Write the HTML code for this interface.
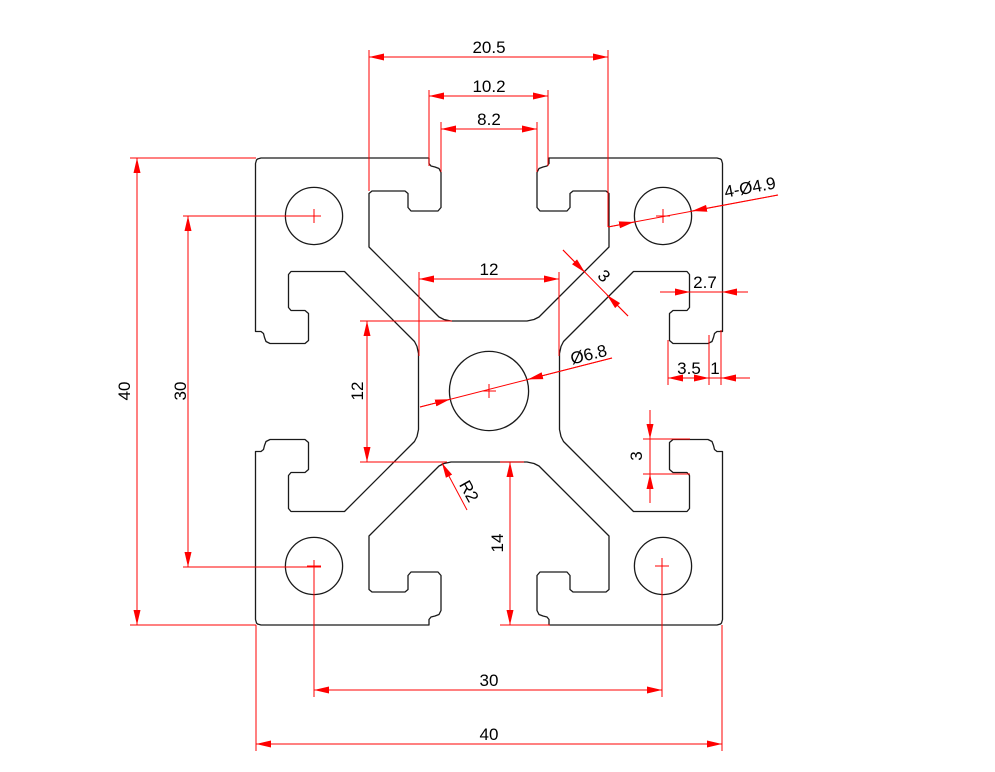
<!DOCTYPE html>
<html><head><meta charset="utf-8"><style>
html,body{margin:0;padding:0;background:#fff;}
svg{display:block;}
text{font-family:"Liberation Sans",sans-serif;font-size:17px;fill:#000;}
</style></head><body>
<svg id="s" width="995" height="772" viewBox="0 0 995 772" xmlns="http://www.w3.org/2000/svg">
<defs>
<marker id="a" markerWidth="16" markerHeight="10" refX="15" refY="5" orient="auto-start-reverse" markerUnits="userSpaceOnUse">
<path d="M0,1.5 L15,5 L0,8.5 z" fill="#f00"/>
</marker>
</defs>
<rect width="995" height="772" fill="#fff"/>
<path id="outline" d="" fill="none" stroke="#1a1a1a" stroke-width="1.3" stroke-linejoin="round"/>
<g fill="none" stroke="#1a1a1a" stroke-width="1.3">
<circle cx="314" cy="216" r="28.6"/>
<circle cx="663" cy="216" r="28.6"/>
<circle cx="314" cy="566" r="28.6"/>
<circle cx="663" cy="566" r="28.6"/>
<circle cx="489" cy="391" r="39.6"/>
</g>
<g stroke="#f00" stroke-width="1" fill="none">
<!-- 20.5 -->
<line x1="369" y1="50" x2="369" y2="191"/><line x1="608" y1="50" x2="608" y2="227"/>
<line x1="369" y1="57" x2="608" y2="57" marker-start="url(#a)" marker-end="url(#a)"/>
<!-- 10.2 -->
<line x1="429" y1="90" x2="429" y2="166"/><line x1="548" y1="90" x2="548" y2="166"/>
<line x1="429" y1="96" x2="548" y2="96" marker-start="url(#a)" marker-end="url(#a)"/>
<!-- 8.2 -->
<line x1="441" y1="122" x2="441" y2="172"/><line x1="537" y1="122" x2="537" y2="172"/>
<line x1="441" y1="129" x2="537" y2="129" marker-start="url(#a)" marker-end="url(#a)"/>
<!-- 40 vertical -->
<line x1="130" y1="158" x2="256" y2="158"/><line x1="130" y1="625" x2="256" y2="625"/>
<line x1="137" y1="158" x2="137" y2="625" marker-start="url(#a)" marker-end="url(#a)"/>
<!-- 30 vertical -->
<line x1="183" y1="216" x2="321" y2="216"/><line x1="183" y1="567" x2="321" y2="567"/>
<line x1="188" y1="216" x2="188" y2="567" marker-start="url(#a)" marker-end="url(#a)"/>
<!-- 12 vertical -->
<line x1="360" y1="321" x2="452" y2="321"/><line x1="360" y1="462" x2="447" y2="462"/>
<line x1="367" y1="321" x2="367" y2="462" marker-start="url(#a)" marker-end="url(#a)"/>
<!-- 12 horizontal -->
<line x1="419" y1="272" x2="419" y2="356"/><line x1="559" y1="272" x2="559" y2="356"/>
<line x1="419" y1="279" x2="559" y2="279" marker-start="url(#a)" marker-end="url(#a)"/>
<!-- 3 web -->
<line x1="563" y1="250" x2="628" y2="316"/>
<line x1="563" y1="250" x2="585" y2="272.5" marker-end="url(#a)"/>
<line x1="628" y1="316" x2="607" y2="295" marker-end="url(#a)"/>
<!-- 4-Ø4.9 -->
<line x1="608" y1="227" x2="778" y2="195"/>
<line x1="608" y1="227" x2="634" y2="222" marker-end="url(#a)"/>
<line x1="778" y1="195" x2="692" y2="211" marker-end="url(#a)"/>
<!-- 2.7 -->
<line x1="660" y1="292" x2="748" y2="292"/>
<line x1="660" y1="292" x2="690" y2="292" marker-end="url(#a)"/>
<line x1="748" y1="292" x2="722" y2="292" marker-end="url(#a)"/>
<!-- 3.5 / 1 -->
<line x1="668" y1="340" x2="668" y2="385"/><line x1="709" y1="335" x2="709" y2="385"/><line x1="721" y1="330" x2="721" y2="385"/>
<line x1="668" y1="378" x2="750" y2="378"/>
<line x1="689" y1="378" x2="668" y2="378" marker-end="url(#a)"/>
<line x1="689" y1="378" x2="709" y2="378" marker-end="url(#a)"/>
<line x1="750" y1="378" x2="721" y2="378" marker-end="url(#a)"/>
<!-- Ø6.8 -->
<line x1="420" y1="407" x2="612" y2="358"/>
<line x1="420" y1="407" x2="450" y2="399.3" marker-end="url(#a)"/>
<line x1="612" y1="358" x2="528" y2="379.4" marker-end="url(#a)"/>
<!-- 3 vertical right -->
<line x1="643" y1="439" x2="690" y2="439"/><line x1="643" y1="474" x2="690" y2="474"/>
<line x1="650" y1="410" x2="650" y2="503"/>
<line x1="650" y1="410" x2="650" y2="439" marker-end="url(#a)"/>
<line x1="650" y1="503" x2="650" y2="474" marker-end="url(#a)"/>
<!-- R2 -->
<line x1="467" y1="510" x2="442" y2="463" marker-end="url(#a)"/>
<!-- 14 -->
<line x1="500" y1="625" x2="550" y2="625"/><line x1="500" y1="462" x2="524" y2="462"/>
<line x1="510" y1="462" x2="510" y2="625" marker-start="url(#a)" marker-end="url(#a)"/>
<!-- 30 horizontal -->
<line x1="314" y1="560" x2="314" y2="697"/><line x1="662" y1="558" x2="662" y2="697"/>
<line x1="314" y1="690" x2="662" y2="690" marker-start="url(#a)" marker-end="url(#a)"/>
<!-- 40 horizontal -->
<line x1="256" y1="625" x2="256" y2="751"/><line x1="722" y1="625" x2="722" y2="751"/>
<line x1="256" y1="744" x2="722" y2="744" marker-start="url(#a)" marker-end="url(#a)"/>
<!-- center crosses -->
<line x1="314" y1="209" x2="314" y2="223"/>
<line x1="656" y1="216" x2="670" y2="216"/><line x1="663" y1="209" x2="663" y2="223"/>
<line x1="482" y1="391" x2="496" y2="391"/><line x1="489" y1="384" x2="489" y2="398"/>
<line x1="307" y1="566" x2="321" y2="566"/>
<line x1="655" y1="566" x2="669" y2="566"/>
</g>
<g>
<text x="489" y="53" text-anchor="middle">20.5</text>
<text x="489" y="92" text-anchor="middle">10.2</text>
<text x="489" y="125" text-anchor="middle">8.2</text>
<text x="489" y="275" text-anchor="middle">12</text>
<text x="489" y="686" text-anchor="middle">30</text>
<text x="489" y="740" text-anchor="middle">40</text>
<text x="705" y="288" text-anchor="middle">2.7</text>
<text x="689" y="374" text-anchor="middle">3.5</text>
<text x="715" y="374" text-anchor="middle">1</text>
<text transform="translate(130,391) rotate(-90)" text-anchor="middle">40</text>
<text transform="translate(186,391) rotate(-90)" text-anchor="middle">30</text>
<text transform="translate(363,391) rotate(-90)" text-anchor="middle">12</text>
<text transform="translate(503,543) rotate(-90)" text-anchor="middle">14</text>
<text transform="translate(642,456) rotate(-90)" text-anchor="middle">3</text>
<text transform="translate(600,280) rotate(45)" text-anchor="middle">3</text>
<text transform="translate(751,193) rotate(-10.6)" text-anchor="middle">4-Ø4.9</text>
<text transform="translate(590,360) rotate(-14)" text-anchor="middle">Ø6.8</text>
<text transform="translate(464,494) rotate(61)" text-anchor="middle">R2</text>
</g>
</svg>
<script>
(function(){
var P=[[0,-70.5],[-38,-70.5],[-45,-72],[-50,-74.5],[-120,-144.5],[-120,-198],[-117,-200.5],[-84,-200.5],[-81,-198],[-81,-184],[-78,-180.5],[-51,-180.5],[-48,-184],[-48,-219],[-50,-223],[-54,-224.5],[-58,-225.5],[-60,-228],[-60,-233.5],[-228,-233.5],[-231.5,-232.5]];
var Q=P.slice();
var M=P.map(function(p){return [p[1],p[0]];}).reverse();
Q=Q.concat(M);
var all=[];
var cur=Q;
for(var k=0;k<4;k++){
all=all.concat(cur);
cur=cur.map(function(p){return [p[1],-p[0]];});
}
var cx=489,cy=391.5;
var d=all.map(function(p,i){return (i?'L':'M')+(cx+p[0]).toFixed(1)+','+(cy+p[1]).toFixed(1);}).join(' ')+' Z';
document.getElementById('outline').setAttribute('d',d);
})();
</script>
</body></html>
